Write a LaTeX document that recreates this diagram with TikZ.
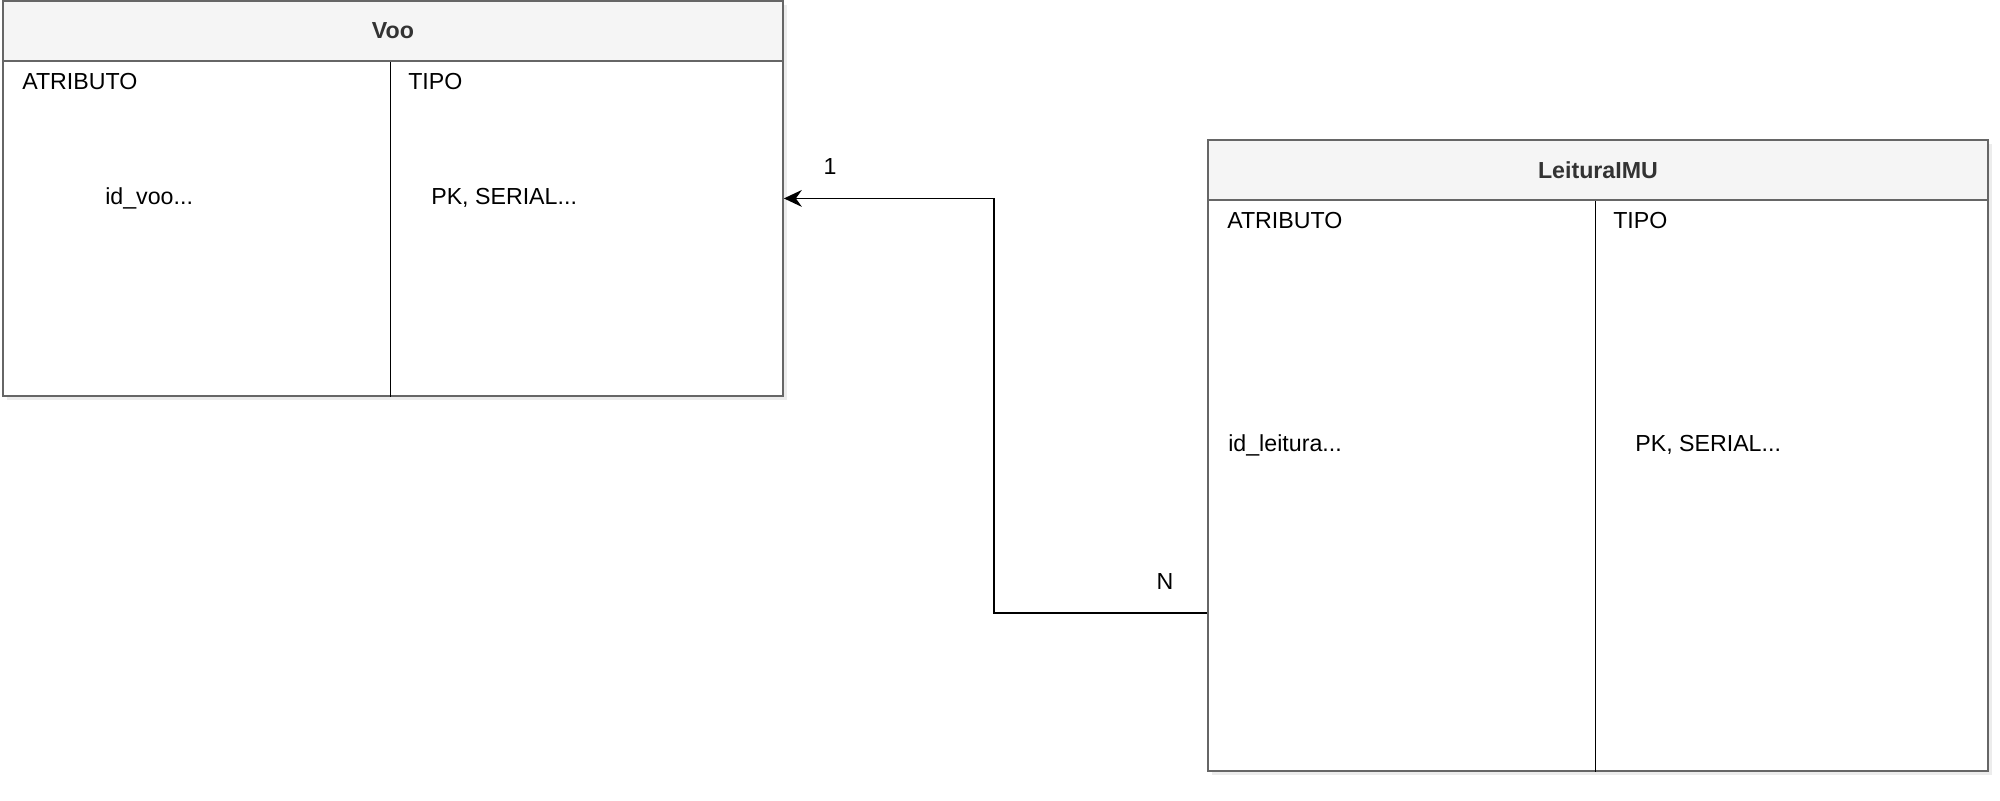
\documentclass[tikz,border=0pt]{standalone}
\usepackage{fontspec}
\setmainfont{Liberation Sans}
\usetikzlibrary{arrows.meta,shadows,positioning}

\definecolor{hdrfill}{HTML}{F5F5F5}
\definecolor{boxline}{HTML}{666666}
\definecolor{titletext}{HTML}{333333}

\begin{document}
\begin{tikzpicture}[x=0.25mm, y=-0.25mm,
  entity/.style={draw=boxline, line width=1.3pt, fill=white, anchor=north west,
    inner sep=0pt, minimum width=195mm,
    drop shadow={opacity=0.15, shadow xshift=1mm, shadow yshift=-1mm}},
  header/.style={draw=boxline, line width=1.3pt, fill=hdrfill, anchor=north west,
    inner sep=0pt, minimum width=195mm, minimum height=15mm,
    font=\bfseries, text=titletext},
  cell/.style={anchor=west, inner sep=0pt},
  divider/.style={line width=1.3pt, black},
  rel/.style={line width=1.3pt, -{Stealth[length=4.5mm, width=4.2mm, inset=1.5mm]}}
]

  \fontsize{16.5}{19.5}\selectfont
  \useasboundingbox (0,0) rectangle (2000,800);

  % Voo
  \node[entity, minimum height=98.75mm] (voo) at (2,0) {};
  \node[header] (vooHead) at (2,0) {Voo};
  \draw[divider] ([xshift=-0.6mm]vooHead.south) -- ([xshift=-0.6mm]voo.south);
  \node[cell] (vooAtr) at (22,82) {ATRIBUTO};
  \node[cell] (vooTipo) at (408,82) {TIPO};
  \node[cell] (vooId) at (105,198) {id\_voo...};
  \node[cell] (vooIdTipo) at (431,198) {PK, SERIAL...};

  % LeituraIMU
  \node[entity, minimum height=157.75mm] (leit) at (1207,139) {};
  \node[header] (leitHead) at (1207,139) {LeituraIMU};
  \draw[divider] ([xshift=-0.6mm]leitHead.south) -- ([xshift=-0.6mm]leit.south);
  \node[cell] (leitAtr) at (1227,221) {ATRIBUTO};
  \node[cell] (leitTipo) at (1613,221) {TIPO};
  \node[cell] (leitId) at (1228,445) {id\_leitura...};
  \node[cell] (leitIdTipo) at (1635,445) {PK, SERIAL...};

  % relacao 1:N
  \coordinate (relStart) at (1207,613);
  \draw[rel] (relStart) -- ++(-213,0) |- (voo.east);
  \node (one) at (830,167) {1};
  \node (many) at (1165,582) {N};

\end{tikzpicture}
\end{document}
